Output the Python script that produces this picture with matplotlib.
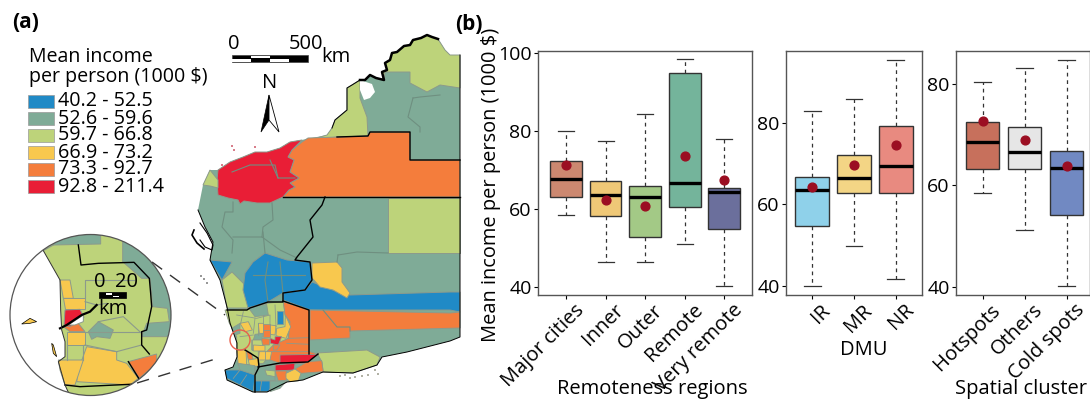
import matplotlib
matplotlib.use('Agg')
import matplotlib.pyplot as plt
from matplotlib.patches import Polygon, Circle, Rectangle
from matplotlib.transforms import ScaledTranslation

plt.rcParams['font.family'] = ['Open Sans', 'DejaVu Sans']

# legend classes
legend_labels = ['40.2 - 52.5', '52.6 - 59.6', '59.7 - 66.8', '66.9 - 73.2', '73.3 - 92.7', '92.8 - 211.4']
BLUE, GRAY, GREEN, YELLOW, ORANGE, RED = '#208ac6', '#7fab97', '#bdd37a', '#f8c84e', '#f47d3c', '#e91e36'
legend_colors = [BLUE, GRAY, GREEN, YELLOW, ORANGE, RED]

# box statistics
remote_names = ['Major cities', 'Inner', 'Outer', 'Remote', 'Very remote']
remote_low = [58.4, 46.3, 46.3, 50.9, 40.2]
remote_q1 = [63.1, 58.3, 52.9, 60.5, 54.9]
remote_med = [67.6, 63.5, 63.0, 66.6, 64.3]
remote_q3 = [72.2, 67.2, 66.0, 94.9, 65.3]
remote_high = [80.0, 77.4, 84.4, 98.5, 78.1]
remote_mean = [71.3, 62.2, 60.8, 73.7, 67.4]
remote_colors = ['#cc8870', '#efc877', '#a3c986', '#74b49b', '#6b6f9c']

dmu_names = ['IR', 'MR', 'NR']
dmu_low = [40.1, 49.7, 41.6]
dmu_q1 = [54.8, 62.9, 62.9]
dmu_med = [63.5, 66.4, 69.3]
dmu_q3 = [66.6, 72.2, 79.2]
dmu_high = [82.8, 85.8, 95.5]
dmu_mean = [64.2, 69.6, 74.6]
dmu_colors = ['#8fd1ea', '#f3d585', '#e88a80']

cluster_names = ['Hotspots', 'Others', 'Cold spots']
cluster_low = [58.6, 51.2, 40.2]
cluster_q1 = [63.2, 63.2, 54.3]
cluster_med = [68.6, 66.5, 63.5]
cluster_q3 = [72.4, 71.4, 66.7]
cluster_high = [80.3, 83.0, 84.6]
cluster_mean = [72.7, 69.0, 63.8]
cluster_colors = ['#c7705c', '#e6e6e6', '#7189c2']

# map outlines, traced in image pixels
kimberley_coast = [(460, 55), (450, 55), (445, 50), (438, 39), (432, 37), (427, 35), (421, 38), (413, 40), (410, 45),
                   (404, 46), (397, 52), (392, 53), (390, 60), (385, 63), (387, 70), (382, 72), (384, 80), (376, 78),
                   (370, 75), (365, 80), (360, 80), (352, 85), (347, 88)]
coast = kimberley_coast + [(347, 110), (335, 120), (332, 128), (327, 135), (307, 139), (290, 142), (280, 148), (267, 152),
                           (255, 152), (243, 157), (230, 162), (218, 170), (210, 170), (203, 185), (200, 200), (198, 210),
                           (205, 227), (213, 242), (210, 260), (220, 280), (227, 307), (230, 323), (237, 343), (237, 357),
                           (233, 367), (225, 370), (227, 380), (253, 392), (267, 392), (287, 382), (303, 380), (323, 372),
                           (353, 373), (377, 365), (382, 357), (407, 352), (450, 341), (460, 337), (460, 55)]
map_regions = [
    (GREEN, [(385, 72), (410, 72), (410, 83), (427, 92), (440, 85), (460, 88)] + kimberley_coast[:17]),
    (GREEN, [(360, 80), (360, 98), (367, 117), (368, 136), (337, 137), (310, 140), (327, 135), (332, 128), (335, 120),
             (347, 110), (347, 88)]),
    (ORANGE, [(308, 138), (368, 136), (370, 132), (410, 132), (410, 160), (460, 160), (460, 197), (283, 197),
              (289, 190), (295, 187), (290, 183), (299, 178), (290, 172), (294, 160), (288, 157), (292, 150), (302, 142)]),
    (RED, [(302, 140), (290, 142), (280, 148), (267, 152), (255, 152), (243, 157), (230, 162), (218, 170), (217, 180),
           (218, 195), (228, 198), (238, 200), (240, 204), (244, 201), (257, 203), (270, 203), (283, 197), (289, 190),
           (295, 187), (290, 183), (299, 178), (290, 172), (294, 160), (288, 157), (292, 150)]),
    (GREEN, [(203, 185), (210, 170), (218, 180), (218, 188), (210, 186)]),
    (GREEN, [(388, 198), (460, 198), (460, 253), (388, 253)]),
    (BLUE, [(210, 260), (232, 262), (222, 280), (217, 272)]),
    (GREEN, [(222, 280), (232, 272), (245, 285), (248, 308), (227, 308)]),
    (BLUE, [(245, 273), (253, 262), (265, 253), (287, 260), (310, 262), (312, 280), (305, 290), (283, 293),
            (268, 302), (248, 308), (243, 290)]),
    (BLUE, [(312, 282), (333, 290), (350, 295), (450, 292), (460, 292), (460, 312), (450, 310), (310, 310),
            (283, 300), (283, 293), (305, 290)]),
    (YELLOW, [(312, 263), (337, 262), (342, 268), (342, 282), (350, 293), (347, 298), (333, 290), (320, 287),
              (312, 278)]),
    (ORANGE, [(310, 310), (450, 313), (460, 312), (460, 328), (350, 331), (350, 338), (310, 340)]),
    (GREEN, [(317, 353), (367, 350), (380, 357), (377, 365), (353, 373), (323, 372), (322, 362)]),
]

# south west patchwork, traced on a 3x crop whose corner is at (220, 295)
sw_cells = [
    (GREEN, [(15, 45), (85, 40), (140, 25), (190, 20), (205, 130), (160, 165), (130, 205), (55, 210), (50, 165),
             (50, 125), (28, 85)]),
    (GRAY, [(85, 38), (140, 28), (145, 60), (105, 65)]),
    (GRAY, [(35, 100), (60, 85), (60, 115), (45, 120)]),
    (ORANGE, [(190, 20), (268, 45), (268, 178), (170, 180), (140, 170), (160, 150), (205, 130), (210, 80), (195, 60)]),
    (BLUE, [(170, 48), (190, 48), (190, 88), (170, 88)]),
    (YELLOW, [(60, 85), (85, 80), (97, 105), (75, 110)]),
    (YELLOW, [(115, 85), (130, 85), (132, 115), (118, 115)]),
    (YELLOW, [(150, 90), (168, 92), (165, 120), (150, 118)]),
    (YELLOW, [(196, 60), (212, 95), (198, 130), (168, 122), (170, 100), (195, 95)]),
    (ORANGE, [(130, 88), (150, 88), (150, 105), (130, 105)]),
    (ORANGE, [(130, 105), (150, 105), (150, 126), (130, 126)]),
    (ORANGE, [(125, 130), (150, 132), (148, 150), (125, 150)]),
    (GRAY, [(105, 118), (130, 115), (125, 135), (100, 135)]),
    (RED, [(150, 130), (165, 135), (165, 125), (185, 125), (175, 150), (152, 145)]),
    (ORANGE, [(160, 150), (180, 150), (170, 165), (160, 165)]),
    (GREEN, [(95, 135), (125, 135), (130, 165), (95, 165)]),
    (YELLOW, [(100, 150), (135, 152), (135, 168), (100, 168)]),
    (YELLOW, [(115, 170), (160, 170), (155, 195), (115, 195)]),
    (ORANGE, [(78, 165), (95, 175), (100, 195), (85, 195)]),
    (YELLOW, [(50, 165), (78, 165), (80, 210), (55, 210)]),
    (YELLOW, [(85, 195), (115, 190), (118, 212), (90, 218)]),
    (ORANGE, [(155, 170), (270, 170), (295, 178), (265, 200), (180, 205), (150, 195)]),
    (RED, [(180, 180), (295, 178), (260, 205), (180, 205)]),
    (RED, [(165, 210), (225, 205), (222, 225), (165, 228)]),
    (ORANGE, [(225, 222), (262, 200), (305, 197), (310, 230), (242, 235)]),
    (ORANGE, [(165, 228), (200, 228), (200, 255), (175, 258)]),
    (YELLOW, [(198, 235), (225, 222), (243, 235), (235, 258), (210, 260), (198, 250)]),
    (GRAY, [(55, 205), (105, 212), (105, 240), (60, 228)]),
    (BLUE, [(15, 225), (60, 225), (105, 240), (100, 290), (60, 270), (20, 250)]),
    (GRAY, [(105, 215), (165, 208), (165, 258), (105, 258)]),
    (GREEN, [(135, 225), (165, 228), (165, 245), (140, 240)]),
    (BLUE, [(105, 258), (165, 258), (145, 290), (100, 290)]),
    (GRAY, [(150, 258), (200, 258), (180, 280), (150, 290)]),
]
sw_gray_lines = [
    [(50, 60), (110, 70), (150, 60), (150, 90)], [(105, 70), (100, 115)], [(70, 50), (62, 85)],
    [(130, 60), (130, 85)], [(165, 30), (168, 95)], [(60, 125), (100, 120)], [(95, 135), (95, 165)],
    [(115, 120), (115, 85)], [(205, 130), (268, 128)], [(200, 145), (268, 148)], [(115, 195), (118, 170)],
    [(135, 168), (135, 195)], [(60, 270), (80, 240)], [(60, 225), (40, 250)], [(125, 258), (120, 290)],
]

thick_lines = [
    [(337, 137), (368, 136), (370, 132), (410, 132), (410, 160), (460, 160)],
    [(283, 197), (460, 197)],
    [(325, 197), (322, 205), (310, 220), (313, 237), (297, 257), (295, 260), (310, 262), (312, 280), (305, 290),
     (283, 293), (283, 302), (268, 302), (250, 308), (247, 310), (227, 310)],
    [(283, 301), (309, 310), (309, 354)],
    [(258, 367), (280, 363), (308, 362), (318, 354)],
    [(245, 350), (258, 358), (259, 367), (255, 375), (255, 392)],
]
gray_lines = [
    [(233, 202), (233, 212), (225, 212), (222, 227), (233, 240), (232, 253)],
    [(272, 203), (273, 220), (263, 227), (262, 237), (233, 237)],
    [(262, 237), (280, 250), (297, 258)],
    [(263, 232), (265, 253)],
    [(268, 262), (265, 280), (268, 302)], [(253, 275), (280, 275), (305, 275)], [(280, 262), (283, 293)],
    [(413, 98), (420, 97), (440, 95)], [(413, 98), (408, 117), (420, 127), (420, 132)],
    [(338, 255), (357, 252), (388, 253)], [(338, 255), (337, 262)],
    [(323, 310), (337, 327), (350, 327), (350, 331)],
    [(232, 172), (250, 165), (275, 165), (278, 178), (295, 178)], [(270, 160), (278, 178)],
]
shark_bay = [(200, 223), (207, 233), (213, 245), (212, 250), (205, 247), (200, 240)]
shark_west = [(194, 230), (192, 235), (197, 243), (204, 249)]
king_sound = [(360, 80), (372, 84), (375, 92), (370, 98), (364, 100), (360, 90)]

# small offshore islands
island_x = [340, 345, 350, 355, 362, 368, 375, 378, 201, 204, 207, 232, 234, 222, 255]
island_y = [376, 375, 378, 377, 376, 375, 370, 374, 276, 279, 283, 146, 150, 165, 147]
island_col = ['#999988'] * 8 + ['#777777'] * 3 + ['#cc5566'] * 4

# inset shapes, traced on a 3x crop whose corner is at (10, 230)
inset_land = [(100, 62), (150, 150), (152, 240), (155, 300), (165, 335), (165, 380), (145, 395), (165, 465), (190, 520),
              (500, 520), (500, 0), (100, 0)]
inset_regions = [
    (GRAY, [(130, 45), (272, 42), (272, 15), (130, 0)]),
    (GRAY, [(338, 20), (338, 95), (395, 145), (420, 145), (425, 190), (428, 230), (472, 235), (478, 275), (410, 280),
            (395, 320), (470, 320), (500, 300), (500, 0), (338, 0)]),
    (YELLOW, [(230, 350), (320, 365), (320, 390), (350, 400), (385, 445), (360, 465), (200, 455), (205, 420)]),
    (YELLOW, [(145, 390), (220, 390), (205, 435), (195, 465), (165, 465), (150, 420)]),
    (ORANGE, [(355, 395), (440, 372), (440, 400), (388, 445)]),
    (YELLOW, [(170, 305), (225, 305), (225, 345), (170, 345)]),
    (ORANGE, [(160, 290), (205, 280), (225, 305), (180, 305)]),
    (GRAY, [(235, 305), (265, 275), (310, 300), (300, 325), (260, 320), (245, 328)]),
    (YELLOW, [(150, 150), (180, 150), (190, 205), (160, 205)]),
    (YELLOW, [(160, 205), (225, 205), (225, 238), (165, 238)]),
    (RED, [(165, 240), (210, 238), (222, 262), (180, 290), (162, 285)]),
    ('white', [(175, 285), (220, 255), (220, 275), (195, 285)]),
]
inset_thick = [
    [(205, 45), (213, 105), (265, 100), (372, 97), (418, 145), (422, 190), (425, 230), (410, 300), (395, 305),
     (395, 345), (418, 372)],
    [(355, 395), (388, 448)],
    [(165, 465), (210, 470), (380, 462)],
]
inset_river = [(150, 295), (170, 285), (215, 255), (240, 245), (260, 225)]
inset_gray = [[(225, 215), (260, 225), (290, 220)], [(265, 275), (340, 260), (395, 310)], [(225, 345), (320, 365)],
              [(225, 305), (395, 305)], [(100, 62), (130, 45)], [(225, 205), (225, 150), (372, 150)],
              [(170, 345), (170, 390)], [(220, 345), (220, 390)], [(320, 365), (395, 345)]]
inset_islands = [[(35, 282), (60, 265), (80, 275), (60, 280)], [(125, 340), (130, 345), (140, 380), (130, 370)]]
inset_scale_text = [('0', 100, 282), ('20', 127, 282), ('km', 113, 309)]


def crop(pts, ox, oy):
    return [(ox + x / 3, oy + y / 3) for x, y in pts]


fig = plt.figure(figsize=(10.9, 4.04), dpi=100)
bg = fig.add_axes([0, 0, 1, 1])
bg.set_xlim(0, 1090)
bg.set_ylim(404, 0)
bg.axis('off')

EDGE = '#8c9a8c'
bg.add_patch(Polygon(coast, closed=True, fc=GRAY, ec='none', zorder=1))
for col, pts in map_regions:
    bg.add_patch(Polygon(pts, closed=True, fc=col, ec=EDGE, lw=0.7, zorder=2))
for col, pts in sw_cells:
    bg.add_patch(Polygon(crop(pts, 220, 295), closed=True, fc=col, ec=EDGE, lw=0.6, zorder=2.5))
for pts in sw_gray_lines:
    bg.plot(*zip(*crop(pts, 220, 295)), color=EDGE, lw=0.6, zorder=3)
for pts in gray_lines:
    bg.plot(*zip(*pts), color='#6f8f80', lw=0.8, zorder=3)
bg.add_patch(Polygon(shark_bay, closed=True, fc='white', ec='none', zorder=3))
bg.add_patch(Polygon(king_sound, closed=True, fc='white', ec='none', zorder=3))
bg.plot(*zip(*shark_west), color='black', lw=1.2, zorder=4)
bg.plot(*zip(*shark_bay), color='black', lw=0.8, zorder=4)
for pts in thick_lines:
    bg.plot(*zip(*pts), color='black', lw=1.0, zorder=4)
bg.plot(*zip(*coast[38:]), color='black', lw=0.7, zorder=4)
bg.plot(*zip(*coast[3:21]), color='black', lw=1.8, zorder=4)
bg.plot(*zip(*coast[20:26]), color='black', lw=0.7, zorder=4)
bg.scatter(island_x, island_y, s=2, c=island_col, linewidths=0, zorder=2)
bg.add_patch(Circle((240, 340), 10, fc='none', ec='#e8604c', lw=1, zorder=5))

# dashed links to the inset
bg.plot([152, 225], [262, 315], color='#333333', lw=1, dashes=(9, 7), zorder=1)
bg.plot([137, 222], [383, 357], color='#333333', lw=1, dashes=(9, 7), zorder=1)

# inset
clip = Circle((90.5, 315), 80.5, transform=bg.transData)
bg.add_patch(Circle((90.5, 315), 80.5, fc='white', ec='none', zorder=6))
bg.add_patch(Polygon(crop(inset_land, 10, 230), closed=True, fc=GREEN, ec='none', zorder=6, clip_path=clip))
for col, pts in inset_regions:
    bg.add_patch(Polygon(crop(pts, 10, 230), closed=True, fc=col, ec=EDGE, lw=0.7, zorder=7, clip_path=clip))
for pts in inset_gray:
    bg.plot(*zip(*crop(pts, 10, 230)), color=EDGE, lw=0.8, zorder=7, clip_path=clip)
for pts in inset_thick:
    bg.plot(*zip(*crop(pts, 10, 230)), color='black', lw=1.0, zorder=8, clip_path=clip)
bg.plot(*zip(*crop(inset_river, 10, 230)), color='black', lw=1.6, zorder=8)
for pts in inset_islands:
    bg.add_patch(Polygon(crop(pts, 10, 230), closed=True, fc=YELLOW, ec='black', lw=0.5, zorder=8))
bg.plot(*zip(*crop(inset_land[:9], 10, 230)), color='#333333', lw=0.7, zorder=8, clip_path=clip)
bg.add_patch(Circle((90.5, 315), 80.5, fc='none', ec='#555555', lw=0.9, zorder=9))

# inset scale bar
bg.add_patch(Rectangle((99, 292), 27, 6, fc='black', ec='black', lw=0.5, zorder=10))
bg.add_patch(Rectangle((106, 293), 6, 1.6, fc='white', ec='none', zorder=11))
bg.add_patch(Rectangle((113, 295.5), 6, 1.6, fc='white', ec='none', zorder=11))
for lab, x, y in inset_scale_text:
    bg.text(x, y, lab, fontsize=14.5, ha='center', va='center', zorder=12)

# main scale bar
bg.add_patch(Rectangle((232, 55), 76, 7, fc='black', ec='#444444', lw=0.5, zorder=5))
bg.add_patch(Rectangle((251, 55.5), 19, 2.5, fc='white', ec='none', zorder=6))
bg.add_patch(Rectangle((232, 59), 19, 2.5, fc='white', ec='none', zorder=6))
bg.add_patch(Rectangle((270, 59), 19, 2.5, fc='white', ec='none', zorder=6))
bg.text(234, 44, '0', fontsize=14.5, ha='center', va='center')
bg.text(306, 44, '500', fontsize=14.5, ha='center', va='center')
bg.text(336, 57, 'km', fontsize=14.5, ha='center', va='center')

# north arrow
bg.text(270, 83, 'N', fontsize=14.5, ha='center', va='center')
bg.add_patch(Polygon([(269, 95), (261, 132), (269, 120)], closed=True, fc='black', ec='black', lw=0.5))
bg.add_patch(Polygon([(269, 95), (279, 132), (269, 120)], closed=True, fc='white', ec='black', lw=0.6))

# legend
bg.text(29, 57, 'Mean income', fontsize=14.1, va='center')
bg.text(29, 77, 'per person (1000 $)', fontsize=14.1, va='center')
for i, (lab, col) in enumerate(zip(legend_labels, legend_colors)):
    y = 95 + i * 17
    bg.add_patch(Rectangle((28, y), 26, 13, fc=col, ec='#999999', lw=0.5))
    bg.text(58, y + 6.5, lab, fontsize=14.2, va='center')

bg.text(12, 22, '(a)', fontsize=15, fontweight='bold', va='center')


def draw_boxes(rect, names, low, q1, med, q3, high, mean, colors, ylim, xlim, ticks, xlabel, label_y):
    ax = fig.add_axes([rect[0] / 1090, 1 - 295 / 404, (rect[1] - rect[0]) / 1090, 244 / 404])
    ax.patch.set_alpha(0)
    stats = []
    for i in range(len(names)):
        stats.append({'whislo': low[i], 'q1': q1[i], 'med': med[i], 'q3': q3[i], 'whishi': high[i], 'fliers': []})
    res = ax.bxp(stats, positions=range(1, len(names) + 1), widths=0.8, patch_artist=True, manage_ticks=False,
                 showfliers=False, capwidths=0.4,
                 medianprops={'color': 'black', 'lw': 2.4, 'solid_capstyle': 'butt'},
                 whiskerprops={'color': '#333333', 'lw': 0.9, 'linestyle': (0, (3, 3))},
                 capprops={'color': '#333333', 'lw': 0.9},
                 boxprops={'edgecolor': '#333333', 'lw': 1.0})
    for box, col in zip(res['boxes'], colors):
        box.set_facecolor(col)
    ax.scatter(range(1, len(names) + 1), mean, s=40, color='#9b0e22', zorder=5)
    ax.set_xlim(*xlim)
    ax.set_ylim(*ylim)
    ax.set_yticks(ticks)
    ax.set_xticks(range(1, len(names) + 1))
    ax.set_xticklabels(names, rotation=45, ha='right', rotation_mode='anchor', fontsize=14.5)
    ax.tick_params(axis='y', labelsize=14, length=3, width=0.8, pad=1.5)
    ax.tick_params(axis='x', length=3, width=0.8, pad=3)
    # tick_params resets the label transforms, so the nudge has to come after it
    shift = ScaledTranslation(8 / 100, 3 / 100, fig.dpi_scale_trans)
    for lab in ax.get_xticklabels():
        lab.set_transform(lab.get_transform() + shift)
    for sp in ax.spines.values():
        sp.set_color('#555555')
        sp.set_linewidth(1.0)
    bg.text(xlabel[1], label_y, xlabel[0], fontsize=14.5, ha='center', va='center')
    return ax


ax1 = draw_boxes((538, 752), remote_names, remote_low, remote_q1, remote_med, remote_q3, remote_high, remote_mean,
                 remote_colors, (37.87, 100.6), (0.29, 5.70), [40, 60, 80, 100], ('Remoteness regions', 652), 389)
ax2 = draw_boxes((786, 922), dmu_names, dmu_low, dmu_q1, dmu_med, dmu_q3, dmu_high, dmu_mean,
                 dmu_colors, (37.8, 97.6), (0.374, 3.626), [40, 60, 80], ('DMU', 864), 350)
ax3 = draw_boxes((956, 1090), cluster_names, cluster_low, cluster_q1, cluster_med, cluster_q3, cluster_high, cluster_mean,
                 cluster_colors, (38.5, 86.4), (0.37, 3.555), [40, 60, 80], ('Spatial cluster', 1021), 389)

bg.text(491, 185, 'Mean income per person (1000 $)', fontsize=14.4, rotation=90, ha='center', va='center')
bg.text(455, 25, '(b)', fontsize=15, fontweight='bold', va='center')

fig.savefig('out.png', dpi=100)
